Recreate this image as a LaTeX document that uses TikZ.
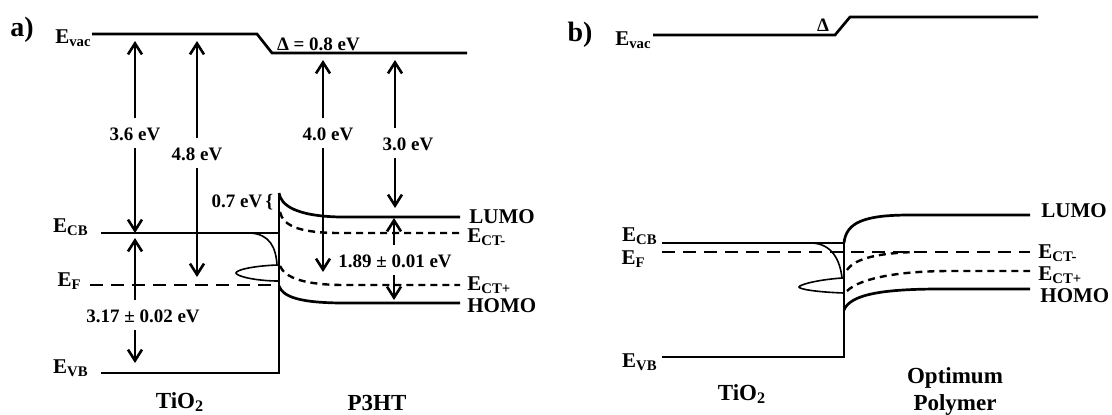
\documentclass[tikz,border=0pt]{standalone}
\usepackage{fontspec}
\setmainfont{Liberation Serif}
\usetikzlibrary{arrows.meta}
\begin{document}
\begin{tikzpicture}[x=0.5pt, y=-0.5pt]
    % Styles
    \tikzstyle{lvl} = [line width=1.35pt]
    \tikzstyle{dosc} = [line width=0.8pt]
    \tikzstyle{fermi} = [line width=1.3pt, dash pattern=on 6.5pt off 4pt]
    \tikzstyle{ct} = [line width=1.2pt, dash pattern=on 3.5pt off 2.5pt]
    \tikzstyle{arr} = [line width=1.3pt, -{Straight Barb[length=5.5pt,width=7pt]}]
    \tikzstyle{ev} = [font=\fontsize{9.5}{11}\selectfont\bfseries, inner sep=1pt, outer sep=3pt, text height=7pt, text depth=0pt]
    \tikzstyle{band} = [font=\fontsize{10.5}{12}\selectfont\bfseries, inner sep=0pt]
    \tikzstyle{mat} = [font=\fontsize{11.5}{13.5}\selectfont\bfseries, inner sep=0pt, align=center]
    \tikzstyle{panel} = [font=\fontsize{14}{16}\selectfont\bfseries]

    \useasboundingbox (0,0) rectangle (1112,414);

    % ---------------- a) ----------------
    \node[panel] (pa) at (22,30) {a)};

    % Levels
    \draw[lvl] (92,34) -- (257,34) -- (272,53) -- (467,53);
    \draw[lvl] (101,233) -- (279,233);
    \draw[lvl] (101,373) -- (279,373) -- (279,193);
    \draw[fermi] (90,285) -- (279,285);

    % P3HT bands
    \draw[lvl] (279,193) .. controls (281,205) and (295,216) .. (340,217) -- (460,217);
    \draw[ct] (280,212) .. controls (283,226) and (300,233) .. (340,233) -- (460,233);
    \draw[ct] (280,266) .. controls (285,278) and (305,285) .. (345,285) -- (460,285);
    \draw[lvl] (279,286) .. controls (283,297) and (300,303) .. (345,303) -- (460,303);

    % Interface states
    \draw[dosc] (250,233) .. controls (270,234) and (276,248) .. (277,265)
        .. controls (252,266) and (236,270) .. (236,273)
        .. controls (236,276) and (255,281) .. (279,281);

    % Labels
    \node[band, anchor=base east] (vacA) at (92,43) {E\textsubscript{vac}};
    \node[band, anchor=base east] (cbA) at (89,232) {E\textsubscript{CB}};
    \node[band, anchor=base east] (fA) at (82,286) {E\textsubscript{F}};
    \node[band, anchor=base east] (vbA) at (89,373) {E\textsubscript{VB}};
    \node[band, anchor=base west] (lumoA) at (469,223) {LUMO};
    \node[band, anchor=base west] (ctmA) at (467,242) {E\textsubscript{CT-}};
    \node[band, anchor=base west] (ctpA) at (467,290) {E\textsubscript{CT+}};
    \node[band, anchor=base west] (homoA) at (467,312) {HOMO};
    \node[mat, anchor=base] (tioA) at (180,408) {TiO\textsubscript{2}};
    \node[mat, anchor=base] (p3ht) at (377,410) {P3HT};
    \node[ev, anchor=base west, inner sep=0pt, outer sep=0pt] (dA) at (277,50) {Δ = 0.8 eV};
    \node[ev, anchor=base east, inner sep=0pt, outer sep=0pt] (l07) at (273,207) {0.7 eV\,\{};

    % Energy arrows
    \node[ev] (l36) at (135,133) {3.6 eV};
    \coordinate (t36) at (135,41);
    \coordinate (b36) at (135,233);
    \draw[arr] (l36) -- (t36);
    \draw[arr] (l36) -- (b36);

    \node[ev] (l48) at (197,153) {4.8 eV};
    \coordinate (t48) at (197,41);
    \coordinate (b48) at (197,277);
    \draw[arr] (l48) -- (t48);
    \draw[arr] (l48) -- (b48);

    \node[ev] (l317) at (143,315) {3.17 ± 0.02 eV};
    \coordinate (t317) at (135,238);
    \coordinate (b317) at (135,363);
    \draw[arr] (t317 |- l317.north) -- (t317);
    \draw[arr] (b317 |- l317.south) -- (b317);

    \node[ev] (l40) at (328,133) {4.0 eV};
    \coordinate (t40) at (323,60);
    \coordinate (b40) at (323,272);
    \draw[arr] (t40 |- l40.north) -- (t40);
    \draw[arr] (b40 |- l40.south) -- (b40);

    \node[ev] (l30) at (408,143) {3.0 eV};
    \coordinate (t30) at (395,60);
    \coordinate (b30) at (395,208);
    \draw[arr] (t30 |- l30.north) -- (t30);
    \draw[arr] (b30 |- l30.south) -- (b30);

    \node[ev] (l189) at (395,260) {1.89 ± 0.01 eV};
    \coordinate (t189) at (394,218);
    \coordinate (b189) at (394,300);
    \draw[arr] (t189 |- l189.north) -- (t189);
    \draw[arr] (b189 |- l189.south) -- (b189);

    % ---------------- b) ----------------
    \node[panel] (pb) at (580,35) {b)};

    % Levels
    \draw[lvl] (653,35) -- (835,35) -- (850,17) -- (1038,17);
    \draw[lvl] (662,243) -- (844,243);
    \draw[lvl] (662,357) -- (844,357) -- (844,243);
    \draw[fermi] (662,252) -- (1030,252);

    % Polymer bands
    \draw[lvl] (844,243) .. controls (846,222) and (865,215) .. (910,215) -- (1030,215);
    \draw[ct] (847,270) .. controls (855,258) and (880,253) .. (915,252);
    \draw[ct] (847,291) .. controls (860,278) and (900,271) .. (950,271) -- (1030,271);
    \draw[lvl] (844,310) .. controls (850,295) and (880,289) .. (940,289) -- (1030,289);

    % Interface states
    \draw[dosc] (812,243) .. controls (832,244) and (840,260) .. (842,278)
        .. controls (815,280) and (799,285) .. (799,287)
        .. controls (799,289) and (815,292) .. (844,293);

    % Labels
    \node[band, anchor=base east] (vacB) at (652,45) {E\textsubscript{vac}};
    \node[band, anchor=base east] (cbB) at (658,241) {E\textsubscript{CB}};
    \node[band, anchor=base east] (fB) at (646,264) {E\textsubscript{F}};
    \node[band, anchor=base east] (vbB) at (658,367) {E\textsubscript{VB}};
    \node[band, anchor=base west] (lumoB) at (1041,217) {LUMO};
    \node[band, anchor=base west] (ctmB) at (1038,258) {E\textsubscript{CT-}};
    \node[band, anchor=base west] (ctpB) at (1038,280) {E\textsubscript{CT+}};
    \node[band, anchor=base west] (homoB) at (1040,302) {HOMO};
    \node[mat, anchor=base] (tioB) at (742,400) {TiO\textsubscript{2}};
    \node[mat, anchor=north] (poly) at (955,367) {Optimum\\Polymer};
    \node[ev, anchor=base, inner sep=0pt, outer sep=0pt] (dB) at (823,31) {Δ};
\end{tikzpicture}
\end{document}
